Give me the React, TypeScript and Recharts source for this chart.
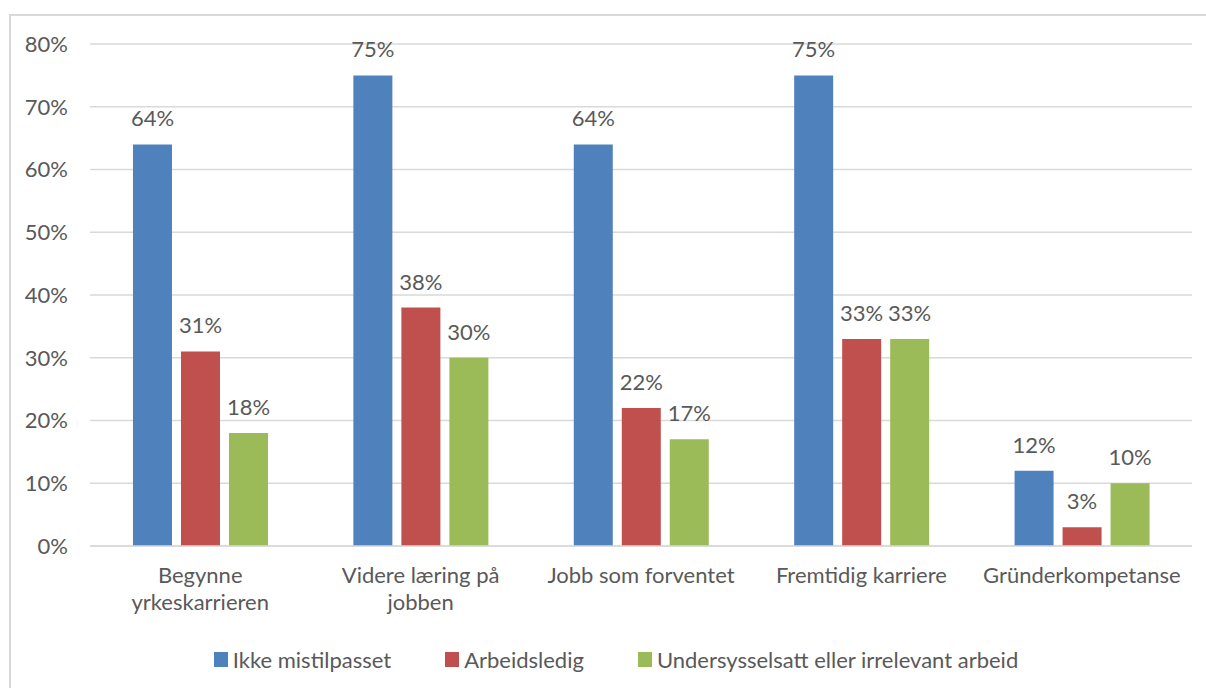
import { BarChart, Bar, XAxis, YAxis, CartesianGrid, Legend, LabelList } from "recharts";

// Category labels (line breaks as in the original axis)
const categories = [
  "Begynne\nyrkeskarrieren",
  "Videre læring på\njobben",
  "Jobb som forventet",
  "Fremtidig karriere",
  "Gründerkompetanse",
];

// Values in percent
const ikkeMistilpasset = [64, 75, 64, 75, 12];
const arbeidsledig = [31, 38, 22, 33, 3];
const undersysselsatt = [18, 30, 17, 33, 10];

const yTicks = [0, 10, 20, 30, 40, 50, 60, 70, 80];

const series = [
  { key: "ikke", name: "Ikke mistilpasset", color: "#4F81BD", values: ikkeMistilpasset },
  { key: "ledig", name: "Arbeidsledig", color: "#C0504D", values: arbeidsledig },
  { key: "under", name: "Undersysselsatt eller irrelevant arbeid", color: "#9BBB59", values: undersysselsatt },
];

const FONT = "Lato, 'Open Sans', sans-serif";
const FONT_SIZE = 22;
const TEXT = "#595959";
const GRID = "#D9D9D9";

const chartData = categories.map((cat, i) => {
  const row: Record<string, string | number> = { category: cat };
  series.forEach((s) => {
    row[s.key] = s.values[i];
  });
  return row;
});

const pct = (v: unknown) => `${v}%`;

function CategoryTick({ x, y, payload }: any) {
  const lines = String(payload.value).split("\n");
  return (
    <text x={x} y={y} textAnchor="middle" fill={TEXT} fontSize={FONT_SIZE} fontFamily={FONT}>
      {lines.map((line, i) => (
        <tspan key={i} x={x} dy={i === 0 ? 31 : 27}>
          {line}
        </tspan>
      ))}
    </text>
  );
}

// legend keeps the series order (recharts sorts payload by name otherwise)
function LegendContent() {
  return (
    <div
      style={{
        height: 58,
        display: "flex",
        alignItems: "center",
        justifyContent: "center",
        gap: 54,
        paddingLeft: 40,
        fontFamily: FONT,
        fontSize: FONT_SIZE,
        color: TEXT,
      }}
    >
      {series.map((s) => (
        <span key={s.key} style={{ display: "flex", alignItems: "center" }}>
          <span
            style={{
              display: "inline-block",
              width: 14,
              height: 15,
              background: s.color,
              marginRight: 5,
            }}
          />
          {s.name}
        </span>
      ))}
    </div>
  );
}

export default function App() {
  return (
    <div
      style={{
        position: "absolute",
        left: 0,
        top: 0,
        width: 1206,
        height: 688,
        background: "#fff",
        overflow: "hidden",
      }}
    >
      {/* frame: only left and top edges are visible in the crop */}
      <div
        style={{
          position: "absolute",
          left: 9,
          top: 14,
          width: 1220,
          height: 700,
          borderLeft: `2px solid ${GRID}`,
          borderTop: `2px solid ${GRID}`,
        }}
      />
      <div style={{ position: "absolute", left: 0, top: 0 }}>
        <BarChart
          width={1206}
          height={688}
          data={chartData}
          margin={{ top: 44, right: 14, left: 0, bottom: 0 }}
          barCategoryGap="19.5%"
          barGap={9}
        >
          <CartesianGrid vertical={false} stroke={GRID} strokeWidth={1.5} />
          <XAxis
            dataKey="category"
            height={84}
            axisLine={{ stroke: GRID, strokeWidth: 1.5 }}
            tickLine={false}
            tickMargin={0}
            interval={0}
            tick={<CategoryTick />}
          />
          <YAxis
            width={90}
            domain={[0, 80]}
            ticks={yTicks}
            tickFormatter={pct}
            axisLine={false}
            tickLine={false}
            tickMargin={16}
            tick={{ fill: TEXT, fontSize: FONT_SIZE, fontFamily: FONT }}
          />
          <Legend verticalAlign="bottom" content={<LegendContent />} />
          {series.map((s) => (
            <Bar key={s.key} dataKey={s.key} name={s.name} fill={s.color} isAnimationActive={false}>
              <LabelList
                dataKey={s.key}
                position="top"
                offset={18}
                formatter={pct}
                fill={TEXT}
                fontSize={FONT_SIZE}
                fontFamily={FONT}
              />
            </Bar>
          ))}
        </BarChart>
      </div>
    </div>
  );
}
